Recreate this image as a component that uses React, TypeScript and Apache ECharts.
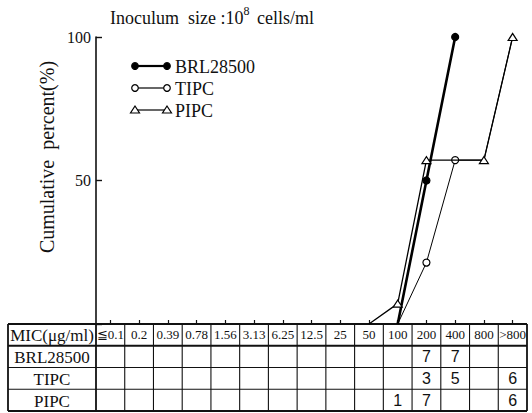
import React, { useEffect, useRef } from 'react';
import * as echarts from 'echarts';

// ---- data ----
const categories = ['≦0.1', '0.2', '0.39', '0.78', '1.56', '3.13', '6.25', '12.5', '25', '50', '100', '200', '400', '800', '>800'];
const seriesNames = ['BRL28500', 'TIPC', 'PIPC'];
const headerLabel = 'MIC(μg/ml)';
const yAxisTitle = 'Cumulative  percent(%)';
const brl28500Pct = [null, null, null, null, null, null, null, null, null, null, 0, 50, 100, null, null];
const tipcPct = [null, null, null, null, null, null, null, null, null, null, 0, 21.4, 57.1, 57.1, 100];
const pipcPct = [null, null, null, null, null, null, null, null, null, 0, 7.1, 57.1, 57.1, 57.1, 100];
const brl28500Count = [null, null, null, null, null, null, null, null, null, null, null, 7, 7, null, null];
const tipcCount = [null, null, null, null, null, null, null, null, null, null, null, 3, 5, null, 6];
const pipcCount = [null, null, null, null, null, null, null, null, null, null, 1, 7, null, null, 6];
const yMin = 0;
const yMax = 100;
const yStep = 50;

const W = 532;
const H = 413;
const SERIF = '"Liberation Serif", "Times New Roman", serif';
const SANS = '"Liberation Sans", Arial, sans-serif';

export default function App() {
  const ref = useRef<HTMLDivElement>(null);
  useEffect(() => {
    if (!ref.current) return;
    const chart = echarts.init(ref.current, null, { renderer: 'svg' });

    const gridLeft = 96;
    const gridRight = 5;
    const gridTop = 37;
    const gridBottom = 89;
    const plotBottom = H - gridBottom;
    const tableLeft = 8;
    const tableRight = W - gridRight;
    const rowH = 21.75;
    const colW = (tableRight - gridLeft) / categories.length;

    const pctSeries = [brl28500Pct, tipcPct, pipcPct];
    const countRows = [brl28500Count, tipcCount, pipcCount];
    const hidden: number[][] = [[], [13, 14], [12]];
    const styles = [
      { symbol: 'circle', size: 7, fill: '#000', width: 2.6 },
      { symbol: 'circle', size: 7, fill: '#fff', width: 1 },
      { symbol: 'triangle', size: [9, 7], fill: '#fff', width: 1.3 },
    ];

    const series = pctSeries.map((arr, si) => ({
      type: 'line',
      name: seriesNames[si],
      xAxisIndex: 0,
      yAxisIndex: 0,
      connectNulls: false,
      z: 2 + si,
      lineStyle: { color: '#000', width: styles[si].width },
      symbol: styles[si].symbol,
      symbolSize: styles[si].size,
      itemStyle: { color: styles[si].fill, borderColor: '#000', borderWidth: 1.2 },
      data: arr.map((v, i) => {
        if (v === null) return null;
        if (v === 0 || hidden[si].includes(i)) return { value: v, symbol: 'none' };
        return v;
      }),
    }));

    const countAxes = countRows.map((row, ri) => ({
      type: 'category',
      gridIndex: 0,
      position: 'bottom',
      offset: rowH * (ri + 1),
      data: row.map((v) => (v === null ? '' : String(v))),
      axisLine: { show: false },
      axisTick: { show: false },
      splitLine: { show: false },
      axisLabel: {
        interval: 0,
        margin: rowH / 2,
        verticalAlign: 'middle',
        color: '#111',
        fontFamily: SANS,
        fontSize: 16,
      },
    }));

    const graphics: any[] = [];
    for (let r = 0; r <= 4; r++) {
      const y = plotBottom + r * rowH;
      graphics.push({
        type: 'line',
        shape: { x1: tableLeft, y1: y, x2: tableRight, y2: y },
        style: { stroke: '#111', lineWidth: r === 0 || r === 4 || r === 1 ? 1.8 : 1.2 },
      });
    }
    const vx = [tableLeft];
    for (let c = 0; c <= categories.length; c++) vx.push(gridLeft + c * colW);
    vx.forEach((x, i) => {
      graphics.push({
        type: 'line',
        shape: { x1: x, y1: plotBottom, x2: x, y2: plotBottom + 4 * rowH },
        style: { stroke: '#111', lineWidth: i === 0 || i === vx.length - 1 || i === 1 ? 1.8 : 1.1 },
      });
    });
    const rowLabels = [headerLabel, ...seriesNames];
    rowLabels.forEach((t, i) => {
      graphics.push({
        type: 'text',
        x: (tableLeft + gridLeft) / 2,
        y: plotBottom + (i + 0.5) * rowH + 1,
        style: {
          text: t,
          fill: '#111',
          fontFamily: SERIF,
          fontSize: 17,
          letterSpacing: i === 1 ? 1.2 : 0.3,
          align: 'center',
          verticalAlign: 'middle',
        },
      });
    });
    graphics.push({
      type: 'text',
      x: 47,
      y: 157,
      rotation: Math.PI / 2,
      style: {
        text: yAxisTitle,
        fill: '#111',
        fontFamily: SERIF,
        fontSize: 20,
        letterSpacing: 1,
        align: 'center',
        verticalAlign: 'middle',
      },
    });
    const lx1 = 135;
    const lx2 = 167;
    seriesNames.forEach((name, i) => {
      const y = 66 + i * 22;
      graphics.push({
        type: 'line',
        shape: { x1: lx1, y1: y, x2: lx2, y2: y },
        style: { stroke: '#000', lineWidth: i === 0 ? 2.2 : 1.2 },
      });
      [lx1, lx2].forEach((cx) => {
        if (styles[i].symbol === 'circle') {
          graphics.push({
            type: 'circle',
            shape: { cx, cy: y, r: 3.3 },
            style: { fill: styles[i].fill, stroke: '#000', lineWidth: 1.2 },
          });
        } else {
          graphics.push({
            type: 'polygon',
            shape: { points: [[cx, y - 4], [cx - 4.5, y + 3], [cx + 4.5, y + 3]] },
            style: { fill: '#fff', stroke: '#000', lineWidth: 1.2 },
          });
        }
      });
      graphics.push({
        type: 'text',
        x: 175,
        y: y + 1,
        style: { text: name, fill: '#111', fontFamily: SERIF, fontSize: 18, letterSpacing: 1, verticalAlign: 'middle' },
      });
    });

    chart.setOption({
      animation: false,
      backgroundColor: '#fff',
      title: {
        text: '{a|Inoculum  size :10}{s|8}{a| cells/ml}',
        left: 110,
        top: 5,
        padding: 0,
        textStyle: {
          fontWeight: 'normal',
          rich: {
            a: { fontFamily: SERIF, fontSize: 18, fontWeight: 'normal', color: '#111', verticalAlign: 'bottom', lineHeight: 22 },
            s: { fontFamily: SERIF, fontSize: 12, fontWeight: 'normal', color: '#111', verticalAlign: 'top', lineHeight: 22, padding: [0, 3, 8, 0] },
          },
        },
      },
      grid: { left: gridLeft, right: gridRight, top: gridTop, bottom: gridBottom, containLabel: false },
      xAxis: [
        {
          type: 'category',
          data: categories,
          boundaryGap: true,
          axisLine: { show: false },
          axisTick: { show: true, inside: true, alignWithLabel: true, interval: 0, length: 4, lineStyle: { color: '#111', width: 1.2 } },
          splitLine: { show: false },
          axisLabel: {
            interval: 0,
            margin: rowH / 2,
            verticalAlign: 'middle',
            color: '#111',
            fontFamily: SERIF,
            fontSize: 13,
          },
        },
        ...countAxes,
      ],
      yAxis: {
        type: 'value',
        min: yMin,
        max: yMax,
        interval: yStep,
        axisLine: { show: true, lineStyle: { color: '#111', width: 1.6 } },
        axisTick: { show: true, inside: true, length: 6, lineStyle: { color: '#111', width: 1.4 } },
        splitLine: { show: false },
        axisLabel: {
          formatter: (v: number) => (v === 0 ? '' : String(v)),
          color: '#111',
          fontFamily: SERIF,
          fontSize: 16,
          margin: 5,
        },
      },
      series,
      graphic: graphics,
    });
    return () => chart.dispose();
  }, []);
  return <div ref={ref} style={{ position: 'fixed', left: 0, top: 0, width: W, height: H }} />;
}
